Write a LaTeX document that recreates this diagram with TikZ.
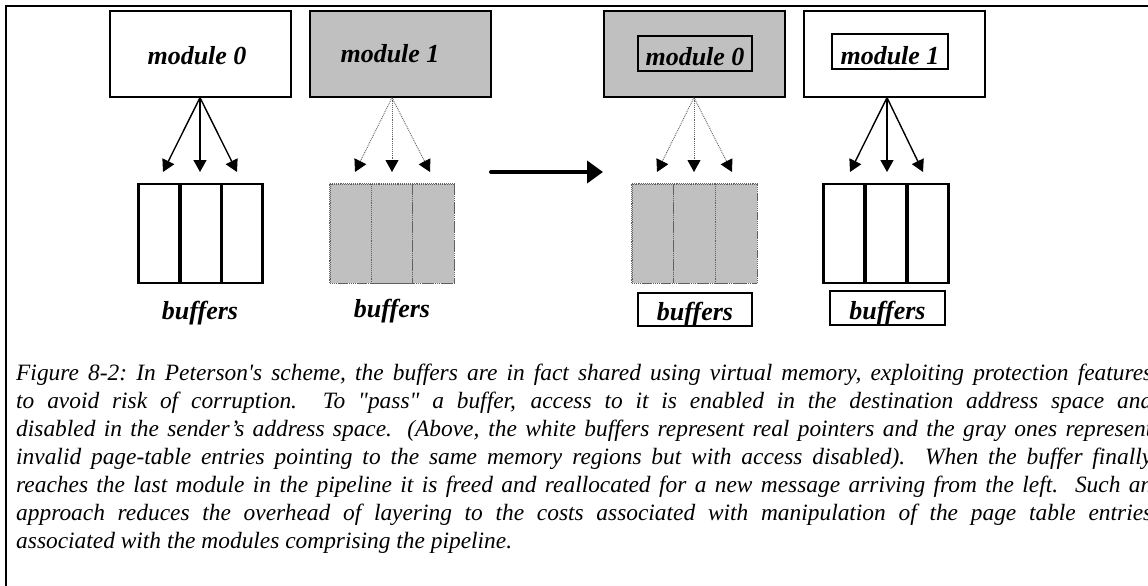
\documentclass[tikz,border=0pt]{standalone}
\usepackage{fontspec}
\setmainfont{Liberation Serif}
\usetikzlibrary{arrows.meta}
\definecolor{cellgray}{HTML}{C0C0C0}
\definecolor{dotgray}{HTML}{606060}
\newcommand\capline[1]{\hbox to 1136pt{#1}}

\begin{document}
\begin{tikzpicture}[x=1pt,y=-1pt,
  module/.style={draw=black,line width=1.3pt,minimum width=181pt,minimum height=86pt,inner sep=0pt},
  graymodule/.style={module,fill=cellgray},
  lbl/.style={font=\fontsize{26}{30}\selectfont\bfseries\itshape,inner sep=0pt},
  frame/.style={draw=black,line width=1.3pt,inner sep=0pt},
  livecell/.style={draw=black,line width=2.8pt,minimum width=41.7pt,minimum height=99pt,inner sep=0pt},
  deadcell/.style={draw=dotgray,densely dotted,line width=0.9pt,fill=cellgray,minimum width=41.5pt,minimum height=99pt,inner sep=0pt},
  ptr/.style={draw=black,line width=1.4pt,-{Triangle[length=12pt,width=13pt]}},
  deadptr/.style={draw=dotgray,densely dotted,line width=0.9pt,-{Triangle[length=12pt,width=13pt,fill=black,color=black]}},
  caption/.style={font=\fontsize{23.4}{28}\selectfont\itshape,inner sep=0pt,align=left,anchor=base west}
]
\useasboundingbox (0,0) rectangle (1148,586);

% outer rule (top and left edges)
\draw[line width=2pt] (1148,6) -- (6,6) -- (6,586);

% ---------- before: module 0 owns the buffers ----------
\node[module] (m0a) at (200.5,54) {};
\node[lbl,anchor=base] (t0a) at (197,65) {module 0};
\node[graymodule] (m1a) at (400.5,54) {};
\node[lbl,anchor=base] (t1a) at (390,63) {module 1};

\node[livecell] (b0a1) at (159,233.5) {};
\node[livecell] (b0a2) at (201,233.5) {};
\node[livecell] (b0a3) at (242,233.5) {};
\node[lbl,anchor=base] (l0a) at (200,319) {buffers};

\node[deadcell] (b1a1) at (350.7,233.5) {};
\node[deadcell] (b1a2) at (392,233.5) {};
\node[deadcell] (b1a3) at (433.3,233.5) {};
\draw[dotgray,densely dotted,line width=0.9pt] (b1a1.north west) rectangle (b1a3.south east);
\node[lbl,anchor=base] (l1a) at (392,317) {buffers};

\coordinate (s0a) at ([xshift=-0.5pt]m0a.south);
\coordinate (p0a1) at (163,172);
\coordinate (p0a2) at (200,172);
\coordinate (p0a3) at (237,172);
\draw[ptr] (s0a) -- (p0a1);
\draw[ptr] (s0a) -- (p0a2);
\draw[ptr] (s0a) -- (p0a3);

\coordinate (s1a) at ([xshift=-8.5pt]m1a.south);
\coordinate (p1a1) at (355,172);
\coordinate (p1a2) at (392,172);
\coordinate (p1a3) at (430,172);
\draw[deadptr] (s1a) -- (p1a1);
\draw[deadptr] (s1a) -- (p1a2);
\draw[deadptr] (s1a) -- (p1a3);

% ---------- the hand-over ----------
\coordinate (go0) at (491,172);
\coordinate (go1) at (603,172);
\draw[line width=4pt,line cap=round,-{Triangle[length=16pt,width=22pt,line cap=butt]}] (go0) -- (go1);

% ---------- after: module 1 owns the buffers ----------
\node[graymodule] (m0b) at (694.5,54) {};
\node[frame,minimum width=114pt,minimum height=35pt] (f0b) at (695,53.5) {};
\node[lbl,anchor=base] (t0b) at (695,66) {module 0};
\node[module] (m1b) at (894.5,54) {};
\node[frame,minimum width=116pt,minimum height=35pt] (f1b) at (890,51.5) {};
\node[lbl,anchor=base] (t1b) at (890,64) {module 1};

\node[deadcell] (b0b1) at (652.8,233.5) {};
\node[deadcell] (b0b2) at (694.5,233.5) {};
\node[deadcell] (b0b3) at (736.2,233.5) {};
\draw[dotgray,densely dotted,line width=0.9pt] (b0b1.north west) rectangle (b0b3.south east);
\node[frame,minimum width=114pt,minimum height=33pt] (g0b) at (695,309.5) {};
\node[lbl,anchor=base] (l0b) at (695,320) {buffers};

\node[livecell] (b1b1) at (844,233.5) {};
\node[livecell] (b1b2) at (886,233.5) {};
\node[livecell] (b1b3) at (928,233.5) {};
\node[frame,minimum width=115pt,minimum height=34pt] (g1b) at (887.5,308) {};
\node[lbl,anchor=base] (l1b) at (887.5,319) {buffers};

\coordinate (s0b) at ([xshift=-0.5pt]m0b.south);
\coordinate (p0b1) at (657,172);
\coordinate (p0b2) at (694,172);
\coordinate (p0b3) at (732,172);
\draw[deadptr] (s0b) -- (p0b1);
\draw[deadptr] (s0b) -- (p0b2);
\draw[deadptr] (s0b) -- (p0b3);

\coordinate (s1b) at ([xshift=-7.5pt]m1b.south);
\coordinate (p1b1) at (850,172);
\coordinate (p1b2) at (887,172);
\coordinate (p1b3) at (923,172);
\draw[ptr] (s1b) -- (p1b1);
\draw[ptr] (s1b) -- (p1b2);
\draw[ptr] (s1b) -- (p1b3);

% ---------- caption (anchored at the baseline of its last line) ----------
\node[caption] (cap) at (16,548) {%
\frenchspacing
\capline{Figure 8-2: In Peterson\textquotesingle s scheme, the buffers are in fact shared using virtual memory, exploiting protection features}\\
\capline{to avoid risk of corruption.\ \ To \textquotedbl pass\textquotedbl\ a buffer, access to it is enabled in the destination address space and}\\
\capline{disabled in the sender’s address space. (Above, the white buffers represent real pointers and the gray ones represent}\\
\capline{invalid page-table entries pointing to the same memory regions but with access disabled).\ \ When the buffer finally}\\
\capline{reaches the last module in the pipeline it is freed and reallocated for a new message arriving from the left.\ \ Such an}\\
\capline{approach reduces the overhead of layering to the costs associated with manipulation of the page table entries}\\
\hbox{associated with the modules comprising the pipeline.}};
\end{tikzpicture}
\end{document}
